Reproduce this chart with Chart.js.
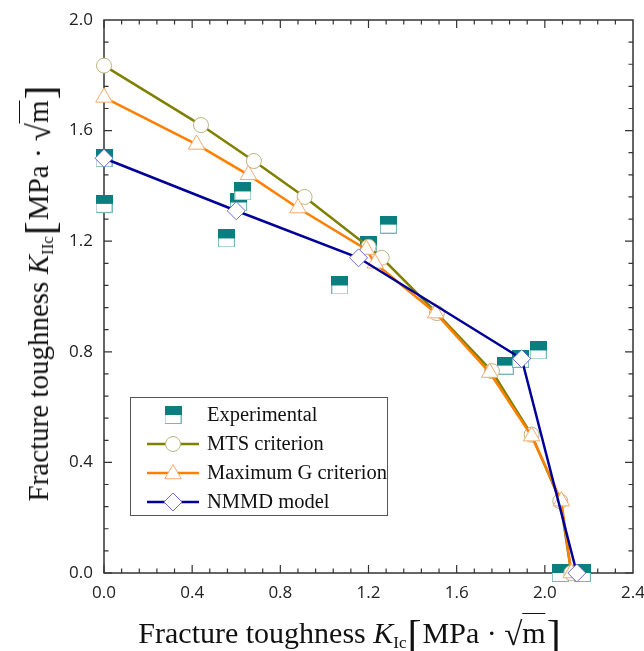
<!DOCTYPE html>
<html>
<head>
<meta charset="utf-8">
<script src="https://cdn.jsdelivr.net/npm/chart.js@4/dist/chart.umd.min.js"></script>
<style>
  body { margin: 0; background: #fff; }
  .wrap { position: relative; width: 644px; height: 651px; overflow: hidden; }
  .axis-title {
    position: absolute;
    white-space: nowrap;
    font-family: "Liberation Serif", "DejaVu Serif", serif;
    font-size: 29px;
    color: #111;
    line-height: 1;
  }
  .axis-title sub { font-size: 17px; vertical-align: -5px; font-style: normal; }
  .axis-title .br { font-size: 42px; font-weight: 100; vertical-align: -6px; margin: 0 1px; }
  .axis-title .rad { font-size: 33px; vertical-align: -2px; }
  .axis-title .ov { border-top: 1.5px solid #111; padding-top: 2px; }
  .x-title { left: 350px; top: 614px; font-size: 30px; transform: translateX(-50%); }
  .y-title { left: 40px; top: 293px; transform: translate(-50%, -50%) rotate(-90deg); }
  .legend {
    position: absolute;
    left: 130px; top: 397px;
    width: 258px; height: 119px;
    border: 1px solid #555;
    background: #fff;
    box-sizing: border-box;
    padding-top: 2px;
    font-family: "Liberation Serif", "DejaVu Serif", serif;
    font-size: 20.5px;
    color: #111;
    white-space: nowrap;
  }
  .legend-row { display: flex; align-items: center; height: 29px; }
  .legend-row canvas { margin-left: 14px; margin-right: 6px; }
</style>
</head>
<body>
<div class="wrap">
  <canvas id="chart" width="644" height="651"></canvas>
  <div class="axis-title x-title">Fracture toughness&nbsp;<i>K</i><sub>Ic</sub><span class="br">[</span>MPa&nbsp;·&nbsp;<span class="rad">√</span><span class="ov">m</span><span class="br">]</span></div>
  <div class="axis-title y-title">Fracture toughness&nbsp;<i>K</i><sub>IIc</sub><span class="br">[</span>MPa&nbsp;·&nbsp;<span class="rad">√</span><span class="ov">m</span><span class="br">]</span></div>
  <div class="legend" id="legend"></div>
</div>
<script>
// Experimental data
const expX = [0.0, 0.0, 0.555, 0.61, 0.63, 1.07, 1.20, 1.29, 1.82, 1.89, 1.97, 2.07, 2.17];
const expY = [1.50, 1.335, 1.21, 1.34, 1.38, 1.04, 1.185, 1.26, 0.75, 0.775, 0.805, 0.0, 0.0];

// MTS criterion
const mtsX = [0.0, 0.44, 0.68, 0.91, 1.20, 1.26, 1.51, 1.76, 1.94, 2.07, 2.12];
const mtsY = [1.835, 1.62, 1.49, 1.36, 1.18, 1.14, 0.94, 0.73, 0.50, 0.26, 0.0];

// Maximum G criterion
const maxgX = [0.0, 0.42, 0.655, 0.88, 1.19, 1.23, 1.505, 1.75, 1.94, 2.075, 2.12];
const maxgY = [1.72, 1.55, 1.44, 1.32, 1.17, 1.12, 0.94, 0.725, 0.495, 0.26, 0.0];

// NMMD model
const nmmdX = [0.0, 0.60, 1.155, 1.895, 2.145];
const nmmdY = [1.50, 1.31, 1.14, 0.775, 0.0];

const xTicks = [0, 0.4, 0.8, 1.2, 1.6, 2.0, 2.4];
const xTickLabels = ['0.0', '0.4', '0.8', '1.2', '1.6', '2.0', '2.4'];
const yTicks = [0, 0.4, 0.8, 1.2, 1.6, 2.0];
const yTickLabels = ['0.0', '0.4', '0.8', '1.2', '1.6', '2.0'];

const seriesNames = ['Experimental', 'MTS criterion', 'Maximum G criterion', 'NMMD model'];

const toPoints = (xs, ys) => xs.map((x, i) => ({ x: x, y: ys[i] }));

// half filled square used for the experimental points
function halfSquare() {
  const c = document.createElement('canvas');
  c.width = 17;
  c.height = 18;
  const ctx = c.getContext('2d');
  ctx.fillStyle = '#fff';
  ctx.fillRect(0, 0, 17, 18);
  ctx.strokeStyle = '#74b8b8';
  ctx.lineWidth = 1;
  ctx.strokeRect(0.5, 0.5, 16, 17);
  ctx.fillStyle = '#0b7f7f';
  ctx.fillRect(0, 0, 17, 9);
  return c;
}
const squareImg = halfSquare();

const frameTicks = {
  id: 'frameTicks',
  beforeDatasetsDraw(chart) {
    const { ctx, chartArea: a, scales } = chart;
    ctx.save();
    ctx.strokeStyle = '#333';
    ctx.lineWidth = 1.5;
    ctx.strokeRect(a.left, a.top, a.right - a.left, a.bottom - a.top);
    ctx.lineWidth = 1.2;
    const minorSteps = 5;
    const drawSet = (ticks, horizontal) => {
      for (let i = 0; i < ticks.length - 1; i++) {
        for (let j = 0; j < minorSteps; j++) {
          const v = ticks[i] + (ticks[i + 1] - ticks[i]) * j / minorSteps;
          const len = j === 0 ? 8 : 4.5;
          ctx.beginPath();
          if (horizontal) {
            const px = scales.x.getPixelForValue(v);
            ctx.moveTo(px, a.bottom); ctx.lineTo(px, a.bottom - len);
            ctx.moveTo(px, a.top); ctx.lineTo(px, a.top + len);
          } else {
            const py = scales.y.getPixelForValue(v);
            ctx.moveTo(a.left, py); ctx.lineTo(a.left + len, py);
            ctx.moveTo(a.right, py); ctx.lineTo(a.right - len, py);
          }
          ctx.stroke();
        }
      }
    };
    drawSet(xTicks, true);
    drawSet(yTicks, false);
    ctx.restore();
  }
};

const lineSeries = (label, xs, ys, color, style, radius, markerBorder, order) => ({
  label: label,
  data: toPoints(xs, ys),
  showLine: true,
  borderColor: color,
  borderWidth: 2.5,
  pointStyle: style,
  pointRadius: radius,
  pointBackgroundColor: '#fff',
  pointBorderColor: markerBorder,
  pointBorderWidth: 1,
  clip: false,
  order: order
});

new Chart(document.getElementById('chart'), {
  type: 'scatter',
  data: {
    datasets: [
      {
        label: seriesNames[0],
        data: toPoints(expX, expY),
        pointStyle: squareImg,
        pointRadius: 9,
        showLine: false,
        clip: false,
        order: 4
      },
      lineSeries(seriesNames[1], mtsX, mtsY, '#808000', 'circle', 7.5, '#b9b47f', 3),
      lineSeries(seriesNames[2], maxgX, maxgY, '#ff7f00', 'triangle', 9.5, '#f2aa6e', 2),
      lineSeries(seriesNames[3], nmmdX, nmmdY, '#000099', 'rectRot', 9, '#6b6bd8', 1)
    ]
  },
  options: {
    responsive: false,
    animation: false,
    events: [],
    layout: { padding: { top: 20, right: 11, left: 0, bottom: 0 } },
    plugins: { legend: { display: false }, tooltip: { enabled: false } },
    scales: {
      x: {
        type: 'linear',
        min: 0,
        max: 2.4,
        grid: { display: false, drawTicks: false },
        border: { display: false },
        afterBuildTicks: (scale) => { scale.ticks = xTicks.map((v) => ({ value: v })); },
        afterFit: (scale) => {
          scale.height = 78;
          scale.paddingLeft = 0;
          scale.paddingRight = 0;
        },
        ticks: {
          padding: 10,
          color: '#222',
          font: { family: 'Open Sans', size: 17 },
          callback: (v, i) => xTickLabels[i]
        }
      },
      y: {
        type: 'linear',
        min: 0,
        max: 2.0,
        grid: { display: false, drawTicks: false },
        border: { display: false },
        afterBuildTicks: (scale) => { scale.ticks = yTicks.map((v) => ({ value: v })); },
        afterFit: (scale) => {
          scale.width = 104;
          scale.paddingTop = 0;
          scale.paddingBottom = 0;
        },
        ticks: {
          padding: 11,
          color: '#222',
          font: { family: 'Open Sans', size: 17 },
          callback: (v, i) => yTickLabels[i]
        }
      }
    }
  },
  plugins: [frameTicks]
});

// legend
const legendStyles = [
  { line: null, marker: 'square' },
  { line: '#808000', marker: 'circle', border: '#b9b47f' },
  { line: '#ff7f00', marker: 'triangle', border: '#f2aa6e' },
  { line: '#000099', marker: 'diamond', border: '#6b6bd8' }
];
const legendEl = document.getElementById('legend');
seriesNames.forEach((name, i) => {
  const row = document.createElement('div');
  row.className = 'legend-row';
  const c = document.createElement('canvas');
  c.width = 56;
  c.height = 26;
  const ctx = c.getContext('2d');
  const s = legendStyles[i];
  const cx = 28, cy = 13;
  if (s.line) {
    ctx.strokeStyle = s.line;
    ctx.lineWidth = 2.5;
    ctx.beginPath(); ctx.moveTo(2, cy); ctx.lineTo(54, cy); ctx.stroke();
  }
  ctx.fillStyle = '#fff';
  ctx.lineWidth = 1;
  ctx.strokeStyle = s.border || '#000';
  ctx.beginPath();
  if (s.marker === 'square') {
    ctx.drawImage(squareImg, cx - 8.5, cy - 9);
  } else if (s.marker === 'circle') {
    ctx.arc(cx, cy, 7.5, 0, Math.PI * 2);
    ctx.fill(); ctx.stroke();
  } else if (s.marker === 'triangle') {
    const r = 9.5;
    for (let k = 0; k < 3; k++) {
      const ang = k * 2 * Math.PI / 3;
      ctx.lineTo(cx + Math.sin(ang) * r, cy + 1 - Math.cos(ang) * r);
    }
    ctx.closePath(); ctx.fill(); ctx.stroke();
  } else {
    const r = 9;
    ctx.moveTo(cx, cy - r); ctx.lineTo(cx + r, cy); ctx.lineTo(cx, cy + r); ctx.lineTo(cx - r, cy);
    ctx.closePath(); ctx.fill(); ctx.stroke();
  }
  row.appendChild(c);
  const span = document.createElement('span');
  span.textContent = name;
  row.appendChild(span);
  legendEl.appendChild(row);
});
</script>
</body>
</html>
